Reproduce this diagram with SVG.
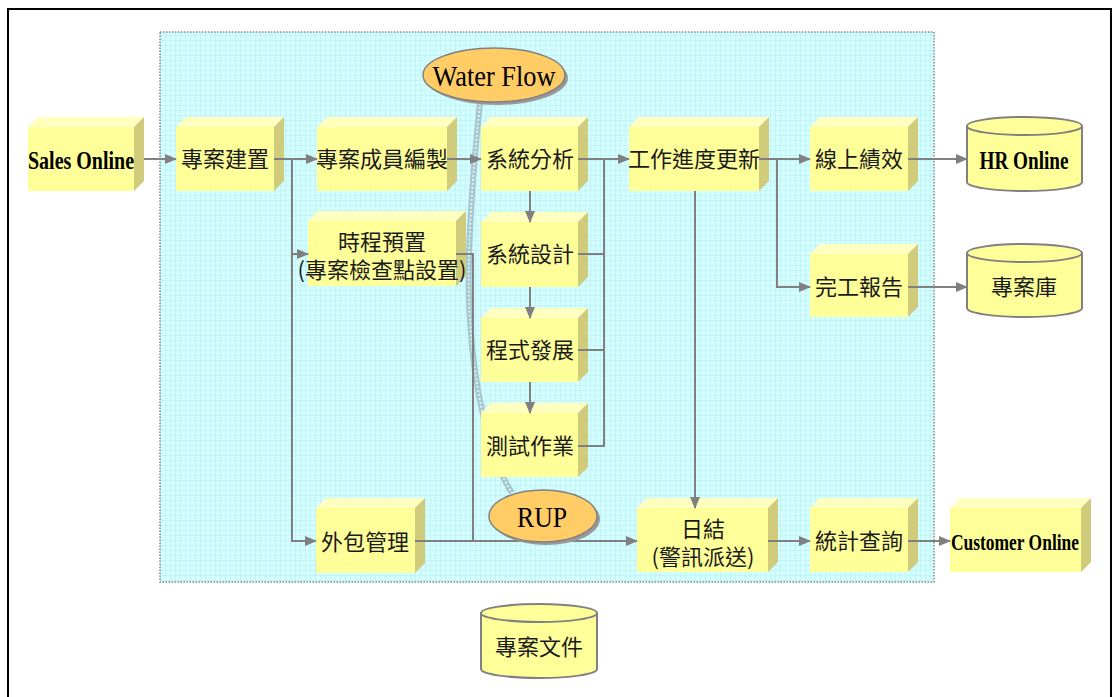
<svg xmlns="http://www.w3.org/2000/svg" width="1112" height="697" viewBox="0 0 1112 697">
<defs>
<pattern id="grid" width="5" height="5" patternUnits="userSpaceOnUse">
<rect width="5" height="5" fill="#d2ffff"/>
<path d="M0,0.5 H5 M0.5,0 V5" stroke="#c6f2f6" stroke-width="1"/>
</pattern>
<marker id="ah" markerWidth="12" markerHeight="10" refX="11" refY="5" orient="auto" markerUnits="userSpaceOnUse">
<path d="M0,0 L12,5 L0,10 Z" fill="#808080"/>
</marker>
</defs>
<style>
.front{fill:#ffff99}
.top{fill:#ffffc0}
.side{fill:#d0cc7c}
.cj{font-family:"Noto Sans CJK TC","Noto Sans CJK SC",sans-serif;font-size:22px;fill:#1a1a1a;text-anchor:middle}
.lt{font-family:"Liberation Serif",serif;fill:#000;text-anchor:middle}
.cn{fill:none;stroke:#808080;stroke-width:2}
.cyl{fill:#ffff99;stroke:#808080;stroke-width:2}
.ell{fill:#ffcc66;stroke:#808080;stroke-width:1.5}
.shd{fill:#999}
</style>
<rect x="0" y="0" width="1112" height="697" fill="#fff"/>
<rect x="8" y="9" width="1103" height="700" fill="none" stroke="#000" stroke-width="2"/>
<rect x="160" y="32" width="774" height="550" fill="url(#grid)" stroke="#7a8a90" stroke-width="1.5" stroke-dasharray="1.5,1.5"/>

<g id="curve">
<path d="M480,103 C472,180 466,260 470,320 C474,390 490,460 512,493" fill="none" stroke="#a6c6ce" stroke-width="6"/>
<path d="M480,103 C472,180 466,260 470,320 C474,390 490,460 512,493" fill="none" stroke="#dcf2f6" stroke-width="2" stroke-dasharray="2,2"/>
</g>

<g id="sales-online">
<rect class="front" x="28" y="127" width="106" height="64"/>
<polygon class="top" points="28,127 38,117 144,117 134,127"/>
<polygon class="side" points="134,127 144,117 144,181 134,191"/>
<text class="lt" x="81" y="169" font-size="26" font-weight="bold" textLength="106" lengthAdjust="spacingAndGlyphs">Sales Online</text>
</g>
<g id="project-setup">
<rect class="front" x="176" y="127" width="98" height="64"/>
<polygon class="top" points="176,127 186,117 284,117 274,127"/>
<polygon class="side" points="274,127 284,117 284,181 274,191"/>
<text class="cj" x="225" y="167">專案建置</text>
</g>
<g id="members">
<rect class="front" x="317" y="127" width="130" height="64"/>
<polygon class="top" points="317,127 327,117 457,117 447,127"/>
<polygon class="side" points="447,127 457,117 457,181 447,191"/>
<text class="cj" x="382" y="167">專案成員編製</text>
</g>
<g id="sys-analysis">
<rect class="front" x="481" y="127" width="97" height="64"/>
<polygon class="top" points="481,127 491,117 588,117 578,127"/>
<polygon class="side" points="578,127 588,117 588,181 578,191"/>
<text class="cj" x="530" y="167">系統分析</text>
</g>
<g id="progress">
<rect class="front" x="629" y="127" width="130" height="64"/>
<polygon class="top" points="629,127 639,117 769,117 759,127"/>
<polygon class="side" points="759,127 769,117 769,181 759,191"/>
<text class="cj" x="694" y="167">工作進度更新</text>
</g>
<g id="performance">
<rect class="front" x="810" y="127" width="98" height="64"/>
<polygon class="top" points="810,127 820,117 918,117 908,127"/>
<polygon class="side" points="908,127 918,117 918,181 908,191"/>
<text class="cj" x="859" y="167">線上績效</text>
</g>
<g id="hr-online">
<path class="cyl" d="M967,126 V182 A57.5,9 0 0 0 1082,182 V126"/>
<ellipse class="cyl" cx="1024.5" cy="126" rx="57.5" ry="9"/>
<text class="lt" x="1024" y="169" font-size="25" font-weight="bold" textLength="89" lengthAdjust="spacingAndGlyphs">HR Online</text>
</g>
<g id="schedule">
<rect class="front" x="308" y="221" width="148" height="65"/>
<polygon class="top" points="308,221 318,211 466,211 456,221"/>
<polygon class="side" points="456,221 466,211 466,276 456,286"/>
<text class="cj" font-size="21"><tspan x="382" y="250">時程預置</tspan><tspan x="382" y="278">(專案檢查點設置)</tspan></text>
</g>
<g id="sys-design">
<rect class="front" x="481" y="222" width="97" height="65"/>
<polygon class="top" points="481,222 491,212 588,212 578,222"/>
<polygon class="side" points="578,222 588,212 588,277 578,287"/>
<text class="cj" x="530" y="262">系統設計</text>
</g>
<g id="completion">
<rect class="front" x="810" y="254" width="98" height="63"/>
<polygon class="top" points="810,254 820,244 918,244 908,254"/>
<polygon class="side" points="908,254 918,244 918,307 908,317"/>
<text class="cj" x="859" y="295">完工報告</text>
</g>
<g id="project-db">
<path class="cyl" d="M967,253 V308 A57.5,9 0 0 0 1082,308 V253"/>
<ellipse class="cyl" cx="1024.5" cy="253" rx="57.5" ry="9"/>
<text class="cj" x="1024" y="295">專案庫</text>
</g>
<g id="programming">
<rect class="front" x="481" y="318" width="97" height="64"/>
<polygon class="top" points="481,318 491,308 588,308 578,318"/>
<polygon class="side" points="578,318 588,308 588,372 578,382"/>
<text class="cj" x="530" y="358">程式發展</text>
</g>
<g id="testing">
<rect class="front" x="481" y="413" width="97" height="64"/>
<polygon class="top" points="481,413 491,403 588,403 578,413"/>
<polygon class="side" points="578,413 588,403 588,467 578,477"/>
<text class="cj" x="530" y="454">測試作業</text>
</g>
<g id="outsourcing">
<rect class="front" x="316" y="508" width="99" height="65"/>
<polygon class="top" points="316,508 326,498 425,498 415,508"/>
<polygon class="side" points="415,508 425,498 425,563 415,573"/>
<text class="cj" x="365" y="550">外包管理</text>
</g>
<g id="daily">
<rect class="front" x="637" y="508" width="131" height="64"/>
<polygon class="top" points="637,508 647,498 778,498 768,508"/>
<polygon class="side" points="768,508 778,498 778,562 768,572"/>
<text class="cj" font-size="21"><tspan x="703" y="537">日結</tspan><tspan x="703" y="565">(警訊派送)</tspan></text>
</g>
<g id="statistics">
<rect class="front" x="810" y="508" width="98" height="64"/>
<polygon class="top" points="810,508 820,498 918,498 908,508"/>
<polygon class="side" points="908,508 918,498 918,562 908,572"/>
<text class="cj" x="859" y="549">統計查詢</text>
</g>
<g id="customer-online">
<rect class="front" x="950" y="508" width="131" height="64"/>
<polygon class="top" points="950,508 960,498 1091,498 1081,508"/>
<polygon class="side" points="1081,508 1091,498 1091,562 1081,572"/>
<text class="lt" x="1015" y="550" font-size="24" font-weight="bold" textLength="128" lengthAdjust="spacingAndGlyphs">Customer Online</text>
</g>
<g id="project-docs">
<path class="cyl" d="M481,613 V669 A58,9 0 0 0 597,669 V613"/>
<ellipse class="cyl" cx="539" cy="613" rx="58" ry="9"/>
<text class="cj" x="539" y="655">專案文件</text>
</g>

<g id="connectors">
<path class="cn" d="M144,159 H176" marker-end="url(#ah)"/>
<path class="cn" d="M274,159 H317" marker-end="url(#ah)"/>
<path class="cn" d="M292,159 V541 H316" marker-end="url(#ah)"/>
<path class="cn" d="M292,254 H308" marker-end="url(#ah)"/>
<path class="cn" d="M447,159 H481" marker-end="url(#ah)"/>
<path class="cn" d="M578,159 H629" marker-end="url(#ah)"/>
<path class="cn" d="M604,159 V446 H578 M578,254 H604 M578,350 H604"/>
<path class="cn" d="M530,191 V222" marker-end="url(#ah)"/>
<path class="cn" d="M530,287 V318" marker-end="url(#ah)"/>
<path class="cn" d="M530,382 V413" marker-end="url(#ah)"/>
<path class="cn" d="M456,254 H473 V541"/>
<path class="cn" d="M415,541 H637" marker-end="url(#ah)"/>
<path class="cn" d="M695,191 V508" marker-end="url(#ah)"/>
<path class="cn" d="M759,159 H810" marker-end="url(#ah)"/>
<path class="cn" d="M777,159 V287 H810" marker-end="url(#ah)"/>
<path class="cn" d="M908,159 H967" marker-end="url(#ah)"/>
<path class="cn" d="M908,287 H967" marker-end="url(#ah)"/>
<path class="cn" d="M768,541 H810" marker-end="url(#ah)"/>
<path class="cn" d="M908,541 H950" marker-end="url(#ah)"/>
</g>

<g id="waterflow">
<ellipse class="shd" cx="497" cy="78" rx="71" ry="27"/>
<ellipse class="ell" cx="494" cy="75" rx="71" ry="27"/>
<text class="lt" x="494" y="86" font-size="30" textLength="123" lengthAdjust="spacingAndGlyphs">Water Flow</text>
</g>
<g id="rup">
<ellipse class="shd" cx="546" cy="519" rx="54" ry="26"/>
<ellipse class="ell" cx="543" cy="516" rx="54" ry="26"/>
<text class="lt" x="542" y="527" font-size="29" textLength="50" lengthAdjust="spacingAndGlyphs">RUP</text>
</g>
</svg>
